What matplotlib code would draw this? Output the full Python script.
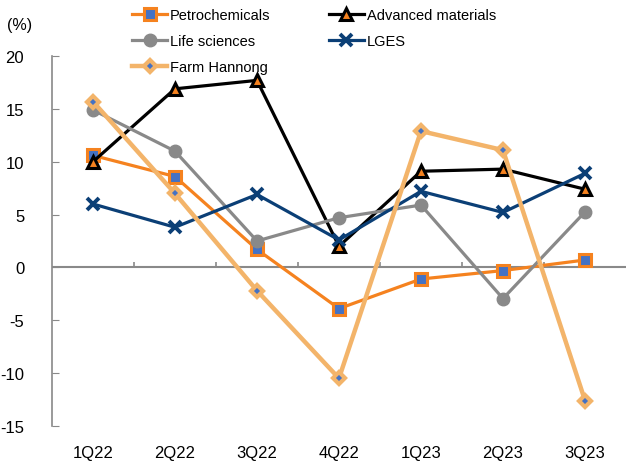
import numpy as np
import matplotlib.pyplot as plt

plt.rcParams['font.family'] = ['Liberation Sans', 'DejaVu Sans']
plt.rcParams['axes.unicode_minus'] = False

quarters = ['1Q22', '2Q22', '3Q22', '4Q22', '1Q23', '2Q23', '3Q23']
petro = [10.6, 8.6, 1.7, -3.9, -1.1, -0.3, 0.7]
advanced = [10.0, 16.9, 17.7, 2.0, 9.1, 9.3, 7.4]
life = [14.9, 11.0, 2.5, 4.7, 5.9, -2.95, 5.25]
lges = [6.0, 3.8, 6.9, 2.6, 7.2, 5.2, 8.9]
farm = [15.7, 7.0, -2.2, -10.5, 12.9, 11.1, -12.6]

x = np.arange(len(quarters))
grey = '#898989'

fig = plt.figure(figsize=(6.26, 4.64), dpi=100)
ax = fig.add_axes([0.083, 0.08, 0.917, 0.797])

l_petro, = ax.plot(x, petro, color='#F5821F', lw=2.3, marker='s', ms=8,
                   mfc='#4472C4', mec='#F5821F', mew=2.2, label='Petrochemicals')
l_adv, = ax.plot(x, advanced, color='black', lw=2.3, marker='^', ms=9,
                 mfc='#F5821F', mec='black', mew=2.2, label='Advanced materials')
l_life, = ax.plot(x, life, color=grey, lw=2.3, marker='o', ms=9,
                  mfc=grey, mec=grey, label='Life sciences')
l_lges, = ax.plot(x, lges, color='#0B3F76', lw=2.3, marker='x', ms=9,
                  mew=2.8, label='LGES')
l_farm, = ax.plot(x, farm, color='#F3B46A', lw=3.2, marker='D', ms=6.5,
                  mfc='#4472C4', mec='#F3B46A', mew=3, label='Farm Hannong')

ax.set_xlim(-0.5, len(quarters) - 0.5)
ax.set_ylim(-15, 20)
ax.set_yticks(np.arange(-15, 21, 5))
ax.set_xticks(x)
ax.set_xticklabels(quarters)
ax.tick_params(axis='x', length=0, pad=14, labelsize=12)
ax.tick_params(axis='y', direction='in', length=5, color=grey, pad=20, labelsize=12)

for s in ['top', 'right', 'bottom']:
    ax.spines[s].set_visible(False)
ax.spines['left'].set_color(grey)
ax.spines['left'].set_linewidth(1.2)

# zero line with category separators
ax.axhline(0, color=grey, lw=1.5, zorder=1)
ax.vlines(x[:-1] + 0.5, 0, 0.5, color=grey, lw=1.2, zorder=1)

fig.text(0.011, 0.935, '(%)', fontsize=11.5)

handles = [l_petro, l_life, l_farm, l_adv, l_lges]
fig.legend(handles=handles, labels=[h.get_label() for h in handles],
           ncol=2, loc='upper left', bbox_to_anchor=(0.19, 1.008),
           frameon=False, fontsize=10.5, handlelength=2.4, handletextpad=0.2,
           columnspacing=4.0, labelspacing=0.8)

plt.savefig('out.png', dpi=100)
